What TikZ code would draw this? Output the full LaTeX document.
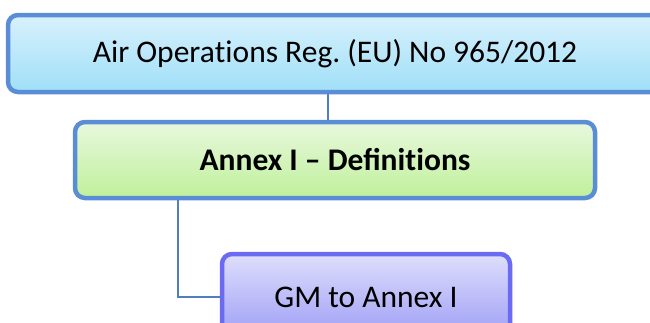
\documentclass[tikz,border=0pt]{standalone}
\usepackage{fontspec}
\setmainfont{Carlito}
\frenchspacing
\newcommand{\tsep}{\mbox{t}}
\tikzset{
  box/.style={draw, line width=4.5pt, rounded corners=10pt, align=center,
    font=\fontsize{31.5}{36}\selectfont, inner sep=0pt},
  link/.style={draw=linkcol, line width=2pt}
}
\definecolor{regline}{HTML}{5A8DD6}
\definecolor{regtop}{HTML}{D8F1FC}
\definecolor{regbot}{HTML}{9FDFF8}
\definecolor{annline}{HTML}{5A8DD6}
\definecolor{anntop}{HTML}{E8F8DE}
\definecolor{annbot}{HTML}{BFF09A}
\definecolor{gmline}{HTML}{6A6AF2}
\definecolor{gmtop}{HTML}{DEDEFC}
\definecolor{gmbot}{HTML}{9C9CF6}
\definecolor{linkcol}{HTML}{4F7FBF}
\begin{document}
\begin{tikzpicture}[x=1pt,y=-1pt]
	\useasboundingbox (0,0) rectangle (650,322);
	\clip (0,0) rectangle (650,322);
	
	\node(reg) at (335,53.5)[box,draw=regline,top color=regtop,bottom color=regbot,
	  minimum width=654pt,minimum height=77pt]{Air Opera\tsep ions Reg. (EU) No 965/2012};
	\node(annex) at (335,160)[box,draw=annline,top color=anntop,bottom color=annbot,
	  minimum width=520pt,minimum height=76pt]{\textbf{Annex I -- Defini\tsep ions}};
	\node(gm) at (366,297)[box,draw=gmline,top color=gmtop,bottom color=gmbot,
	  minimum width=288pt,minimum height=86pt]{GM to Annex I};
	
	\draw[link] ([xshift=-7pt]reg.south) -- ([xshift=-7pt]annex.north);
	\draw[link] ([xshift=-157pt]annex.south) |- (gm.west);
	
\end{tikzpicture}
\end{document}
